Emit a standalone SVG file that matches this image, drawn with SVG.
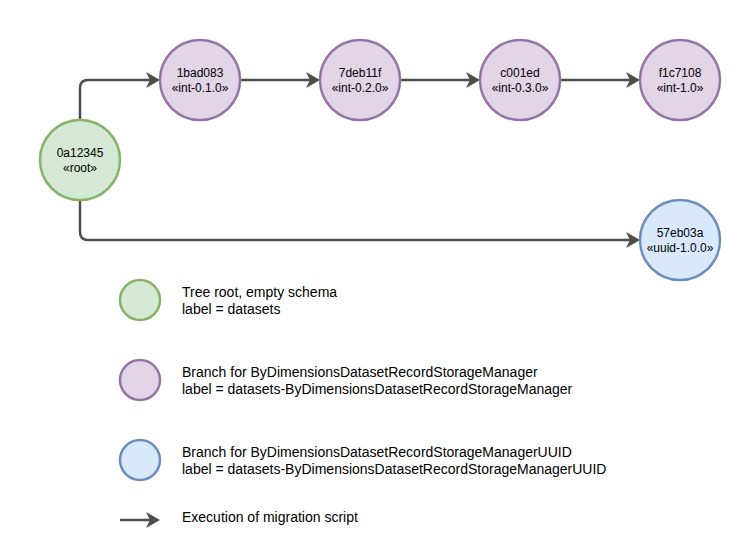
<svg xmlns="http://www.w3.org/2000/svg" width="750" height="550" viewBox="0 0 750 550">
  <defs>
    <marker id="arrow" markerUnits="userSpaceOnUse" markerWidth="16" markerHeight="18" viewBox="0 0 16 18" refX="11" refY="8" orient="auto">
      <path d="M0,0 L14,8 L0,16 L4,8 Z" fill="#4d4d4d"/>
    </marker>
  </defs>
  <style>
    text { font-family: "Liberation Sans", Arial, sans-serif; font-size: 12px; fill: #000; }
    .c { text-anchor: middle; }
    .lg { font-size: 14px; }
    .root { fill: #d5e8d4; stroke: #82b366; stroke-width: 2.5; }
    .int { fill: #e1d5e7; stroke: #9673a6; stroke-width: 2.5; }
    .uuid { fill: #dae8fc; stroke: #6c8ebf; stroke-width: 2.5; }
    .edge { fill: none; stroke: #4d4d4d; stroke-width: 2.5; marker-end: url(#arrow); }
  </style>
  <rect width="750" height="550" fill="#ffffff"/>
  <g id="connectors">
    <path class="edge" d="M80,120 L80,88 Q80,80 88,80 L157,80"/>
    <path class="edge" d="M240,80 L317,80"/>
    <path class="edge" d="M400,80 L477,80"/>
    <path class="edge" d="M560,80 L637,80"/>
    <path class="edge" d="M80,200 L80,232 Q80,240 88,240 L637,240"/>
  </g>
  <g id="n0a12345">
    <circle class="root" cx="80" cy="160" r="40"/>
    <text class="c" x="80" y="157">0a12345</text>
    <text class="c" x="80" y="172">«root»</text>
  </g>
  <g id="n1bad083">
    <circle class="int" cx="200" cy="80" r="40"/>
    <text class="c" x="200" y="77">1bad083</text>
    <text class="c" x="200" y="92">«int-0.1.0»</text>
  </g>
  <g id="n7deb11f">
    <circle class="int" cx="360" cy="80" r="40"/>
    <text class="c" x="360" y="77">7deb11f</text>
    <text class="c" x="360" y="92">«int-0.2.0»</text>
  </g>
  <g id="nc001ed">
    <circle class="int" cx="520" cy="80" r="40"/>
    <text class="c" x="520" y="77">c001ed</text>
    <text class="c" x="520" y="92">«int-0.3.0»</text>
  </g>
  <g id="nf1c7108">
    <circle class="int" cx="680" cy="80" r="40"/>
    <text class="c" x="680" y="77">f1c7108</text>
    <text class="c" x="680" y="92">«int-1.0»</text>
  </g>
  <g id="n57eb03a">
    <circle class="uuid" cx="680" cy="240" r="40"/>
    <text class="c" x="680" y="237">57eb03a</text>
    <text class="c" x="680" y="252">«uuid-1.0.0»</text>
  </g>
  <g id="legend-root">
    <circle class="root" cx="140" cy="300" r="20"/>
    <text class="lg" x="182" y="297">Tree root, empty schema</text>
    <text class="lg" x="182" y="314">label = datasets</text>
  </g>
  <g id="legend-int">
    <circle class="int" cx="140" cy="380" r="20"/>
    <text class="lg" x="182" y="377">Branch for ByDimensionsDatasetRecordStorageManager</text>
    <text class="lg" x="182" y="394">label = datasets-ByDimensionsDatasetRecordStorageManager</text>
  </g>
  <g id="legend-uuid">
    <circle class="uuid" cx="140" cy="460" r="20"/>
    <text class="lg" x="182" y="457">Branch for ByDimensionsDatasetRecordStorageManagerUUID</text>
    <text class="lg" x="182" y="474">label = datasets-ByDimensionsDatasetRecordStorageManagerUUID</text>
  </g>
  <g id="legend-arrow">
    <path class="edge" d="M120,520 L157,520"/>
    <text class="lg" x="182" y="522">Execution of migration script</text>
  </g>
</svg>
